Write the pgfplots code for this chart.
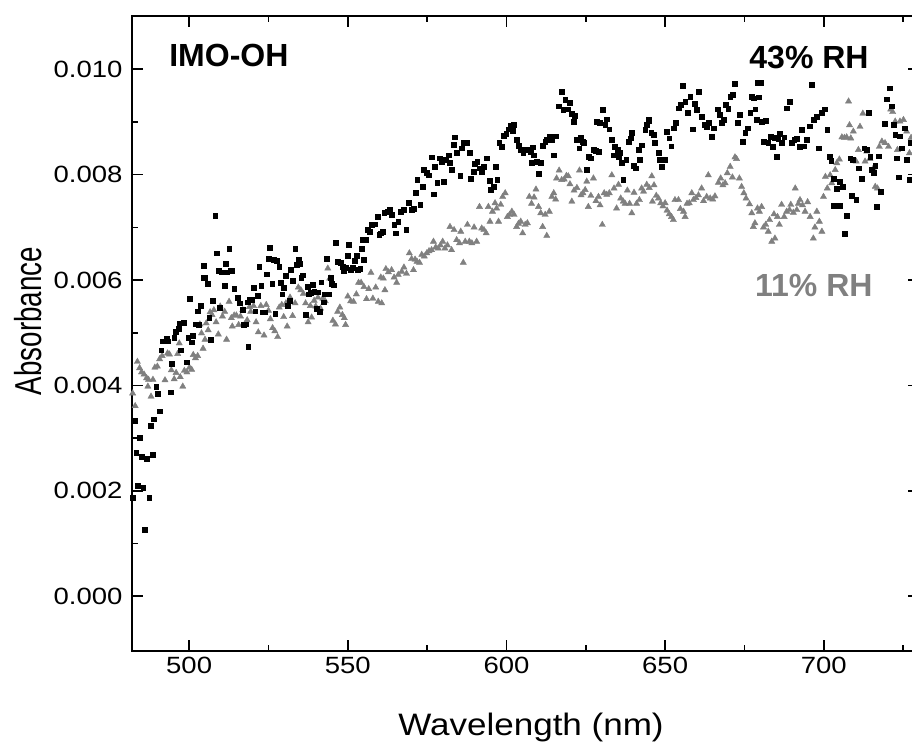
\documentclass[border=0pt]{standalone}
\usepackage{fontspec}
\setmainfont{Liberation Sans}
\newfontfamily\tickfont[FakeStretch=1.17]{Liberation Sans}
\newfontfamily\xlabfont[FakeStretch=1.13]{Liberation Sans}
\newfontfamily\ylabfont[FakeStretch=0.74]{Liberation Sans}
\usepackage{pgfplots}
\pgfplotsset{compat=1.18}
\definecolor{rhgray}{RGB}{128,128,128}

\begin{document}
\begin{tikzpicture}
\begin{axis}[
  scale only axis, width=787pt, height=635pt,
  xmin=482, xmax=730, ymin=-1.04, ymax=11.01,
  xtick={500,550,600,650,700}, minor xtick={525,575,625,675,725},
  ytick={0,2,4,6,8,10},
  yticklabels={0.000,0.002,0.004,0.006,0.008,0.010},
  minor ytick={1,3,5,7,9},
  tick align=inside,
  major tick length=11pt, minor tick length=6pt,
  tick style={line width=1.6pt, black},
  axis line style={line width=1.8pt},
  /pgf/number format/assume math mode=true,
  every tick label/.append style={font=\tickfont\fontsize{23.5}{28}\selectfont},
  xticklabel style={yshift=-3pt},
  yticklabel style={xshift=-6pt},
  xlabel={Wavelength (nm)}, ylabel={Absorbance},
  xlabel style={font=\xlabfont\fontsize{31}{36}\selectfont, at={(axis description cs:0.507,-0.1323)}, anchor=base},
  ylabel style={font=\ylabfont\fontsize{37.5}{42}\selectfont, at={(axis description cs:-0.1315,0.5197)}, anchor=center, rotate=0},
]
\addplot[only marks, mark=triangle*, mark size=3.6pt, color=rhgray] table {
x y
482.2 3.85
483.0 3.61
483.7 4.45
484.4 4.33
485.0 4.25
485.8 4.21
486.6 4.14
487.0 3.98
487.2 4.11
488.0 3.79
488.6 4.11
489.2 4.34
490.0 4.36
490.7 4.50
491.5 4.56
492.4 4.10
493.2 4.61
493.8 4.59
494.4 4.29
495.3 4.12
495.9 4.24
496.4 4.60
496.9 4.80
497.2 4.16
498.0 3.98
498.5 4.28
499.3 4.25
500.1 4.34
500.8 4.30
501.3 4.58
502.0 4.52
502.7 4.56
503.4 5.16
503.9 4.99
504.4 4.70
505.0 4.87
505.4 5.18
506.0 5.05
506.6 5.39
507.2 5.34
507.8 5.43
508.5 5.20
509.2 4.97
509.8 5.50
510.5 5.31
511.2 5.40
511.8 4.87
512.6 5.59
513.3 5.28
513.6 5.12
514.2 5.33
514.9 5.33
515.6 5.15
516.2 5.31
516.9 5.43
517.5 5.16
518.3 5.24
519.0 5.49
519.4 5.40
520.3 5.51
521.1 5.20
521.8 5.01
522.6 5.51
523.6 4.95
524.3 5.53
525.0 5.42
525.6 5.26
526.3 5.09
527.0 5.03
527.9 4.92
528.4 5.48
529.2 5.53
529.8 5.30
530.5 5.56
530.9 5.12
531.8 5.67
532.6 5.32
533.4 5.56
534.4 5.86
535.2 5.81
536.0 5.74
536.7 5.56
537.5 5.20
538.2 5.51
538.6 5.29
539.4 5.61
539.9 5.50
540.6 5.67
541.4 5.46
542.1 5.65
542.9 5.60
543.7 6.22
544.3 6.03
545.3 5.23
546.1 5.16
546.8 5.40
547.5 5.48
548.3 5.34
548.9 5.28
549.3 5.15
550.0 5.69
550.9 5.60
551.8 5.59
552.7 5.73
553.4 5.95
554.2 5.95
555.1 5.87
555.9 5.64
556.6 5.83
557.3 6.14
557.9 5.65
558.8 5.86
559.6 5.59
560.4 6.05
560.7 5.56
561.2 6.03
561.7 5.81
562.0 6.21
562.8 6.15
563.8 6.19
564.6 6.05
565.4 5.95
565.9 6.10
567.0 6.16
567.7 6.24
568.5 6.12
569.4 6.51
570.1 6.40
570.7 6.19
571.2 6.39
571.8 6.35
572.6 6.33
573.3 6.48
574.1 6.45
574.9 6.51
575.6 6.55
576.4 6.57
577.0 6.73
577.7 6.62
578.5 6.60
579.2 6.66
579.9 6.73
580.6 6.60
581.4 6.66
582.2 7.01
582.7 6.57
583.5 6.95
584.3 6.76
585.2 6.70
585.6 6.92
586.4 6.33
587.0 6.73
587.7 7.05
588.3 6.73
589.1 6.70
589.8 7.00
590.6 6.73
591.5 7.39
592.2 6.98
592.9 6.95
593.6 6.89
594.3 7.39
594.8 7.11
595.6 7.30
596.4 7.46
596.9 7.36
597.5 7.11
598.2 7.43
598.8 7.58
599.6 7.65
600.3 7.20
601.0 7.24
601.7 7.30
602.4 7.24
603.2 7.01
603.8 7.07
604.5 7.11
605.1 6.89
605.9 7.05
606.6 7.08
607.2 7.58
607.9 7.45
608.7 7.57
609.3 7.72
610.1 7.39
610.8 7.27
611.4 7.01
612.2 7.24
612.7 6.84
613.5 7.30
614.3 7.58
614.9 7.65
615.5 7.53
615.8 7.93
616.6 8.08
617.4 7.90
618.2 7.91
618.9 7.98
619.5 7.97
620.0 7.82
620.6 7.49
621.3 7.70
622.2 7.75
623.0 8.08
623.5 7.61
624.1 7.65
624.8 7.71
625.3 7.87
625.8 7.39
626.6 7.60
627.4 7.93
628.2 7.50
629.0 7.58
629.5 7.42
630.2 7.05
630.8 7.65
631.6 7.62
632.4 7.65
633.2 7.99
633.9 7.74
634.7 7.36
635.3 7.81
636.0 7.55
636.8 7.49
637.4 7.45
638.1 7.70
638.8 7.45
639.5 7.27
640.2 7.66
641.0 7.45
641.9 7.52
642.6 7.74
643.2 7.68
644.2 7.81
645.0 7.75
645.8 7.97
646.0 7.49
646.5 7.80
647.2 7.60
647.9 7.55
648.6 7.46
649.3 7.40
650.0 7.46
650.6 7.32
651.3 7.25
652.0 7.20
652.6 7.14
653.1 7.52
654.2 7.52
654.8 7.35
655.8 7.30
656.3 7.20
656.9 7.45
657.6 7.46
658.4 7.65
658.9 7.52
659.7 7.56
660.5 7.61
661.5 7.74
662.1 7.50
663.1 7.58
663.6 7.99
664.2 7.55
665.0 7.53
665.7 7.59
666.8 7.85
667.5 7.93
668.2 7.80
668.9 7.84
669.6 8.03
670.5 8.15
671.2 7.95
672.0 8.33
672.5 8.30
673.4 7.93
674.1 7.77
674.8 7.65
675.5 7.55
676.6 7.44
677.3 7.27
677.8 7.01
678.3 7.08
679.1 7.36
679.7 7.30
680.4 7.39
681.0 7.00
681.7 7.05
682.5 6.92
682.9 7.14
683.6 6.73
684.3 7.25
684.6 6.79
685.4 7.20
686.0 7.05
686.7 7.43
687.5 7.20
688.3 7.30
689.2 7.33
689.6 7.43
690.4 7.28
691.0 7.74
691.5 7.33
692.0 7.45
692.5 7.52
693.3 7.42
694.1 7.30
694.9 7.48
695.7 7.20
696.7 6.79
697.2 7.00
697.8 7.30
698.6 7.11
699.4 6.92
699.9 7.58
700.5 7.96
701.1 7.74
702.0 7.99
702.5 7.84
703.6 8.09
704.1 8.22
704.9 8.29
705.7 8.71
706.5 8.70
707.2 8.71
707.8 9.39
708.1 8.94
708.5 8.69
709.3 8.82
710.2 8.25
710.9 8.47
711.4 8.91
712.3 9.16
713.0 8.25
713.5 8.44
714.5 8.30
715.6 8.12
716.2 7.77
716.9 7.74
717.5 8.53
718.3 8.63
719.3 8.60
720.4 8.53
721.1 9.24
721.7 9.19
722.5 9.01
723.2 8.47
724.0 9.01
725.1 9.04
726.1 8.82
727.0 8.41
727.5 8.70
};
\addplot[only marks, mark=square*, mark size=2.4pt, color=black] table {
x y
482.2 1.87
482.8 3.33
483.3 2.72
483.9 2.09
484.5 3.01
485.0 2.64
485.5 2.06
486.1 1.26
486.6 2.61
487.4 1.87
487.9 3.24
488.4 2.68
488.9 3.36
489.6 3.98
490.1 3.84
490.7 3.51
491.2 4.67
491.8 4.84
492.9 4.89
493.4 4.84
494.1 3.87
494.6 4.41
495.3 4.91
495.8 5.02
496.6 5.07
496.9 5.17
497.4 4.67
498.4 5.19
499.3 4.44
499.7 4.91
500.3 5.64
500.8 4.82
501.2 4.94
502.0 5.16
502.6 5.41
503.0 5.15
503.6 5.52
504.5 6.05
504.7 6.27
505.0 6.04
505.8 5.93
506.3 5.29
506.9 4.86
507.4 5.61
508.2 7.22
508.7 6.51
509.2 6.18
509.7 5.48
510.2 6.15
511.1 5.89
511.5 6.31
511.8 6.15
512.6 6.59
513.0 6.18
513.5 6.18
514.2 5.84
515.2 5.67
516.0 5.56
516.9 5.43
517.3 5.15
517.8 5.16
518.4 5.58
518.6 4.74
519.2 5.62
519.9 5.62
520.4 5.86
520.8 5.41
521.5 5.70
522.1 6.25
522.7 5.89
523.2 5.39
523.9 5.39
524.4 6.11
525.0 6.40
525.5 6.61
526.2 5.93
526.7 6.38
527.1 5.36
527.7 6.36
528.4 6.25
528.8 5.95
529.3 5.73
529.7 5.85
530.4 6.08
531.0 5.51
531.6 5.61
532.1 6.20
532.7 5.99
533.4 6.60
533.8 6.29
534.5 6.39
534.9 6.31
535.3 6.05
535.8 6.09
536.7 5.34
537.3 5.87
537.8 5.73
538.4 5.76
538.9 5.91
539.4 5.78
540.1 5.46
540.6 5.77
541.2 5.40
541.6 5.96
542.3 5.58
542.8 5.73
543.4 6.41
543.9 5.73
544.5 6.04
545.0 5.93
545.6 5.90
546.2 6.71
546.7 6.34
547.8 6.33
548.3 6.25
548.8 6.18
549.5 6.24
550.0 6.46
550.4 6.67
551.0 6.19
551.6 6.23
552.2 6.37
552.7 6.46
553.2 6.19
553.9 6.21
554.3 6.60
554.7 6.76
555.1 6.39
555.6 6.76
556.3 6.96
556.8 6.92
557.5 7.05
558.6 7.06
559.3 7.20
559.9 6.86
560.4 6.89
560.9 6.92
561.5 7.27
562.5 7.30
563.3 7.33
563.8 7.24
564.6 7.05
565.2 6.89
565.9 7.11
566.7 7.30
567.5 7.33
568.4 6.95
569.1 7.47
570.1 7.33
570.7 7.36
571.5 7.66
571.9 7.90
572.8 7.43
573.6 7.77
574.0 8.10
574.9 8.03
575.4 7.99
576.4 8.33
577.0 7.63
577.5 8.15
578.2 7.85
578.9 8.31
579.6 8.25
580.3 7.86
580.8 8.28
581.7 8.37
582.2 8.23
582.7 8.09
583.3 8.57
583.7 8.71
584.3 8.41
585.4 7.98
585.9 8.50
586.6 8.61
587.5 8.60
588.3 8.41
588.7 7.93
589.6 8.06
590.1 8.20
590.8 8.25
591.4 8.12
592.2 8.06
592.9 8.15
593.8 8.31
594.6 7.89
595.1 7.72
595.9 7.77
596.7 8.15
597.1 7.91
597.7 8.61
598.5 8.53
599.2 8.74
599.9 8.77
600.6 8.86
601.3 8.93
601.9 8.84
602.4 8.94
603.2 8.66
603.8 8.55
604.5 8.48
605.3 8.41
606.2 8.48
606.9 8.48
607.6 8.44
608.0 8.23
608.3 8.52
608.7 8.37
609.5 8.25
610.2 8.01
610.8 8.23
611.4 8.55
612.2 8.63
612.7 8.66
613.5 8.72
614.3 8.67
614.8 8.37
615.6 8.73
616.4 9.30
617.4 9.58
617.9 9.23
618.5 9.42
619.2 9.24
620.0 9.37
620.6 9.16
621.1 9.01
621.6 9.12
622.1 8.66
622.9 8.50
623.4 8.71
623.9 8.63
624.4 8.60
625.3 8.09
625.8 8.34
626.6 8.31
627.4 8.48
628.2 8.46
628.4 9.01
629.0 8.44
629.5 8.98
630.2 9.23
631.1 8.94
631.6 9.05
632.4 8.86
633.2 8.67
633.7 8.37
634.2 8.53
635.0 8.48
635.3 8.34
635.8 8.41
636.3 8.22
636.8 7.90
637.7 8.28
638.4 8.63
639.2 8.69
639.5 8.80
640.0 8.17
640.8 8.12
641.6 8.47
642.1 8.29
642.6 8.56
643.7 8.85
644.2 8.94
644.7 9.04
645.0 9.03
645.6 8.80
646.3 8.75
646.8 8.60
647.9 8.41
648.4 8.28
648.9 8.15
650.0 8.28
650.5 8.82
651.3 8.69
651.9 8.54
652.6 8.88
653.4 8.98
654.2 9.26
654.9 9.32
655.5 9.68
656.3 9.39
657.0 9.17
657.9 9.48
658.7 8.86
659.3 9.35
660.0 9.23
660.5 9.58
661.5 9.10
662.3 8.94
663.1 8.91
663.8 8.98
664.7 8.72
665.4 8.88
666.5 9.24
667.3 9.13
667.8 8.98
668.4 9.04
669.2 9.32
669.9 9.25
670.5 9.48
671.3 9.51
672.0 9.73
672.8 8.98
673.6 9.13
674.5 8.63
675.2 8.79
675.9 8.88
676.8 9.17
677.3 9.48
677.8 9.45
678.4 9.24
678.9 9.04
679.1 9.75
679.4 9.47
680.1 9.75
680.4 9.00
681.0 8.63
681.8 9.03
682.5 8.60
683.3 8.72
683.9 8.53
684.6 8.70
685.2 8.34
685.6 8.68
686.0 8.77
686.7 8.60
687.5 8.71
688.3 9.26
689.2 9.39
689.9 8.60
690.7 8.66
691.5 8.68
692.3 8.53
693.0 8.85
693.8 8.54
694.6 8.66
695.5 8.92
696.2 9.70
696.7 9.04
697.8 9.10
698.5 8.50
699.4 9.17
700.2 9.24
701.1 8.85
701.8 8.34
702.3 8.27
703.0 7.93
703.2 7.41
704.1 7.74
704.9 7.87
705.1 7.41
706.0 7.77
706.7 6.88
707.2 7.22
708.3 8.31
708.8 7.60
709.1 8.28
710.2 7.52
710.9 8.12
712.0 7.93
712.7 8.50
713.5 8.47
714.1 9.18
714.6 8.34
715.1 8.09
715.6 8.03
716.2 8.17
716.7 7.39
717.4 8.35
717.9 7.68
719.3 8.96
719.8 9.43
720.7 9.64
721.4 9.30
722.0 8.94
722.5 8.75
723.0 8.31
723.5 7.95
723.8 8.73
724.6 8.50
725.6 8.88
726.2 8.28
727.0 7.90
727.5 8.60
};
\node[anchor=base west, inner sep=0pt, font=\fontsize{32}{38}\selectfont\bfseries] at (axis cs:493.7,10.05) {IMO-OH};
\node[anchor=base west, inner sep=0pt, font=\fontsize{32}{38}\selectfont\bfseries] at (axis cs:676.5,10.02) {43\% RH};
\node[anchor=base west, inner sep=0pt, font=\fontsize{32}{38}\selectfont\bfseries, text=rhgray] at (axis cs:678.3,5.68) {11\% RH};
\end{axis}
\pgfresetboundingbox
\path[use as bounding box] ([xshift=-132pt,yshift=-91pt]current axis.south west) rectangle ([xshift=780pt,yshift=16pt]current axis.north west);
\end{tikzpicture}
\end{document}
